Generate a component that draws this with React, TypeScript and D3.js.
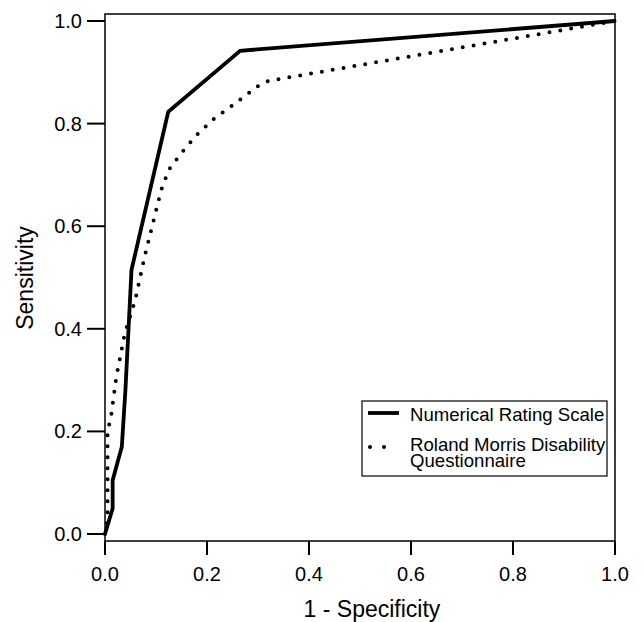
import React from "react";
import * as d3 from "d3";

const nrsFpr = [0, 0.015, 0.015, 0.033, 0.04, 0.052, 0.124, 0.265, 1];
const nrsTpr = [0, 0.05, 0.105, 0.17, 0.28, 0.515, 0.823, 0.942, 1];

const rmdqFpr = [0, 0.005, 0.005, 0.012, 0.022, 0.039, 0.059, 0.078, 0.095, 0.11, 0.125, 0.15, 0.18, 0.212, 0.248, 0.3, 0.32, 1];
const rmdqTpr = [0, 0.03, 0.2, 0.23, 0.305, 0.392, 0.455, 0.542, 0.61, 0.67, 0.71, 0.743, 0.778, 0.808, 0.834, 0.873, 0.883, 1];

const xTicks = [0, 0.2, 0.4, 0.6, 0.8, 1.0];
const yTicks = [0, 0.2, 0.4, 0.6, 0.8, 1.0];

const seriesNames = ["Numerical Rating Scale", "Roland Morris Disability", "Questionnaire"];

const W = 644, H = 622;
const left = 105, right = 615, top = 14, bottom = 541;

export default function App() {
  const x = d3.scaleLinear().domain([0, 1]).range([left, right]);
  const y = d3.scaleLinear().domain([0, 1]).range([534, 21]);
  const line = d3.line<[number, number]>().x((d) => x(d[0])).y((d) => y(d[1]));
  const nrs = nrsFpr.map((f, i) => [f, nrsTpr[i]] as [number, number]);
  const rmdq = rmdqFpr.map((f, i) => [f, rmdqTpr[i]] as [number, number]);
  const font = "Arial, 'Liberation Sans', sans-serif";
  return (
    <svg width={W} height={H} style={{ position: "absolute", left: 0, top: 0, background: "#fff" }} fontFamily={font}>
      <rect x={left} y={top} width={right - left} height={bottom - top} fill="none" stroke="#000" strokeWidth={1.5} />
      {yTicks.map((t) => (
        <g key={"y" + t}>
          <line x1={left - 18} x2={left} y1={y(t)} y2={y(t)} stroke="#000" strokeWidth={2} />
          <text x={left - 23} y={y(t)} textAnchor="end" dominantBaseline="central" fontSize={20}>{t.toFixed(1)}</text>
        </g>
      ))}
      {xTicks.map((t) => (
        <g key={"x" + t}>
          <line x1={x(t)} x2={x(t)} y1={bottom} y2={bottom + 14} stroke="#000" strokeWidth={2} />
          <text x={x(t)} y={581} textAnchor="middle" fontSize={20}>{t.toFixed(1)}</text>
        </g>
      ))}
      <text x={372} y={617} textAnchor="middle" fontSize={23}>1 - Specificity</text>
      <text transform={`translate(33,278) rotate(-90)`} textAnchor="middle" fontSize={23}>Sensitivity</text>
      <path d={line(rmdq) || ""} fill="none" stroke="#000" strokeWidth={4} strokeDasharray="0 11" strokeLinecap="round" />
      <path d={line(nrs) || ""} fill="none" stroke="#000" strokeWidth={3.8} strokeLinejoin="miter" />
      <rect x={362} y={401} width={245} height={75} fill="#fff" stroke="#000" strokeWidth={1.2} />
      <line x1={368} x2={399} y1={413} y2={413} stroke="#000" strokeWidth={3.8} />
      <text x={410} y={421} fontSize={18.6}>{seriesNames[0]}</text>
      <line x1={370} x2={398} y1={447} y2={447} stroke="#000" strokeWidth={4} strokeDasharray="0 14" strokeLinecap="round" />
      <text x={410} y={451} fontSize={18.6}>{seriesNames[1]}</text>
      <text x={410} y={467} fontSize={18.6}>{seriesNames[2]}</text>
    </svg>
  );
}
